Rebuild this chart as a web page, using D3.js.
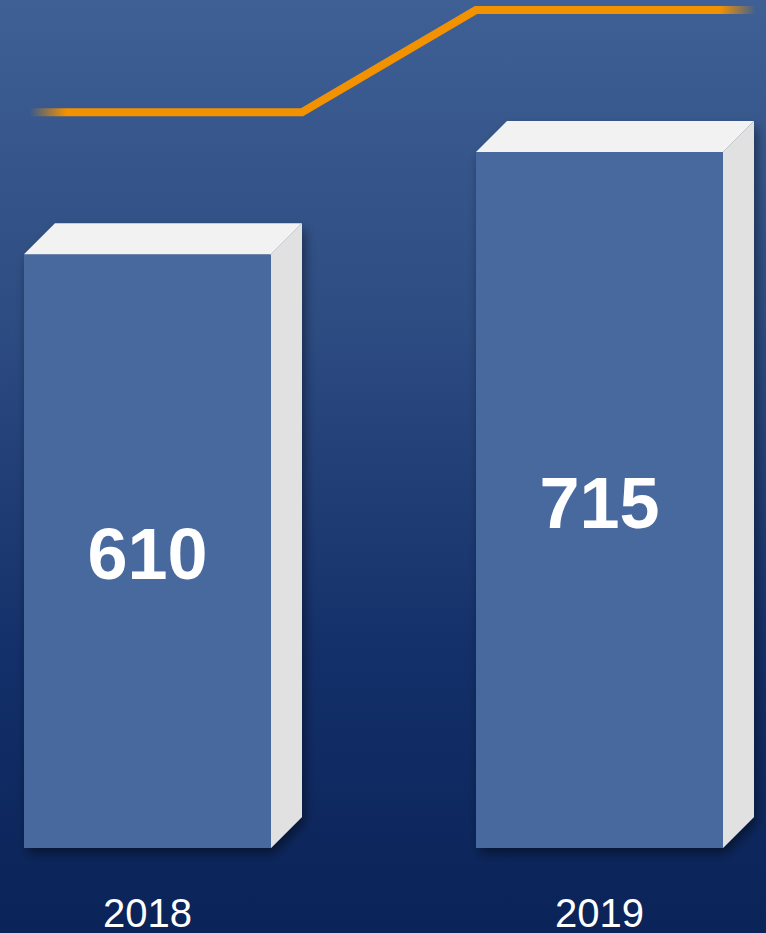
<!DOCTYPE html>
<meta charset="utf-8">
<style>
body { margin: 0; background: #0b2459; }
svg { display: block; }
text { font-family: "Liberation Sans", Arial, sans-serif; fill: #fff; }
</style>
<svg width="766" height="933"></svg>
<script src="https://cdn.jsdelivr.net/npm/d3@7"></script>
<script>
var years = ["2018", "2019"]
var values = [610, 715]

var width = 766, height = 933,
    depth = 31,
    lineLift = 142

var svg = d3.select("svg")
var defs = svg.append("defs")

var bg = defs.append("linearGradient").attr("id", "bg")
  .attr("x1", 0).attr("y1", 0).attr("x2", 0).attr("y2", 1)
bg.append("stop").attr("offset", "0%").attr("stop-color", "#3f6094")
bg.append("stop").attr("offset", "35%").attr("stop-color", "#2d4c82")
bg.append("stop").attr("offset", "70%").attr("stop-color", "#14306a")
bg.append("stop").attr("offset", "100%").attr("stop-color", "#0a2358")

var lg = defs.append("linearGradient").attr("id", "line")
  .attr("gradientUnits", "userSpaceOnUse")
  .attr("x1", 30).attr("x2", 756).attr("y1", 0).attr("y2", 0)
lg.append("stop").attr("offset", "0%").attr("stop-color", "#f39200").attr("stop-opacity", 0)
lg.append("stop").attr("offset", "5%").attr("stop-color", "#f39200").attr("stop-opacity", 1)
lg.append("stop").attr("offset", "95%").attr("stop-color", "#f39200").attr("stop-opacity", 1)
lg.append("stop").attr("offset", "100%").attr("stop-color", "#f39200").attr("stop-opacity", 0)

var shadow = defs.append("filter").attr("id", "shadow")
  .attr("x", "-10%").attr("y", "-10%").attr("width", "130%").attr("height", "130%")
shadow.append("feDropShadow").attr("dx", 3).attr("dy", 6).attr("stdDeviation", 6)
  .attr("flood-color", "#000").attr("flood-opacity", 0.45)

svg.append("rect").attr("width", width).attr("height", height).attr("fill", "url(#bg)")

var x = d3.scaleBand().domain(years).range([24, 723]).paddingInner(205 / 452).paddingOuter(0)
var y = d3.scaleLinear().domain([0, 715]).range([848, 152])

var data = years.map(function(d, i) { return { year: d, value: values[i] } })

var bars = svg.append("g").selectAll("g").data(data).enter().append("g")
  .attr("filter", "url(#shadow)")

// front
bars.append("rect")
  .attr("x", function(d) { return x(d.year) })
  .attr("y", function(d) { return y(d.value) })
  .attr("width", x.bandwidth())
  .attr("height", function(d) { return y(0) - y(d.value) })
  .attr("fill", "#47699d")

// top
bars.append("path")
  .attr("fill", "#f2f2f2")
  .attr("d", function(d) {
    var x0 = x(d.year), x1 = x0 + x.bandwidth(), t = y(d.value)
    return "M" + x0 + "," + t + "L" + (x0 + depth) + "," + (t - depth) +
      "L" + (x1 + depth) + "," + (t - depth) + "L" + x1 + "," + t + "Z"
  })

// side
bars.append("path")
  .attr("fill", "#e1e1e1")
  .attr("d", function(d) {
    var x1 = x(d.year) + x.bandwidth(), t = y(d.value), b = y(0)
    return "M" + x1 + "," + t + "L" + (x1 + depth) + "," + (t - depth) +
      "L" + (x1 + depth) + "," + (b - depth) + "L" + x1 + "," + b + "Z"
  })

svg.append("g").selectAll("text.val").data(data).enter().append("text")
  .attr("class", "val")
  .attr("x", function(d) { return x(d.year) + x.bandwidth() / 2 })
  .attr("y", function(d) { return (y(d.value) + y(0)) / 2 + 28 })
  .attr("text-anchor", "middle")
  .attr("font-size", 72)
  .attr("font-weight", "bold")
  .text(function(d) { return d.value })

svg.append("g").selectAll("text.yr").data(data).enter().append("text")
  .attr("class", "yr")
  .attr("x", function(d) { return x(d.year) + x.bandwidth() / 2 })
  .attr("y", 927)
  .attr("text-anchor", "middle")
  .attr("font-size", 40)
  .text(function(d) { return d.year })

// trend line above the bars
var b0 = data[0], b1 = data[1]
var linePts = [
  [30, y(b0.value) - lineLift],
  [x(b0.year) + x.bandwidth() + depth, y(b0.value) - lineLift],
  [x(b1.year), y(b1.value) - lineLift],
  [756, y(b1.value) - lineLift]
]
svg.append("path")
  .attr("d", d3.line()(linePts))
  .attr("fill", "none")
  .attr("stroke", "url(#line)")
  .attr("stroke-width", 8)
  .attr("stroke-linejoin", "miter")
</script>
